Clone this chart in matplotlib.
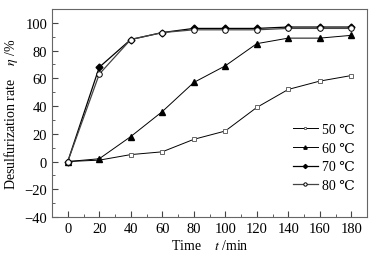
import matplotlib
matplotlib.use('Agg')
import matplotlib.pyplot as plt
from matplotlib.ticker import MultipleLocator

plt.rcParams['font.family'] = ['Liberation Serif', 'DejaVu Serif']
plt.rcParams['mathtext.fontset'] = 'stix'

time_min = [0, 20, 40, 60, 80, 100, 120, 140, 160, 180]
eta_50 = [0, 1, 5, 7, 16, 22, 39, 52, 58, 62]
eta_60 = [0, 2, 18, 36, 57, 69, 85, 89, 89, 91]
eta_70 = [0, 68, 88, 93, 96, 96, 96, 97, 97, 97]
eta_80 = [0, 63, 88, 93, 95, 95, 95, 96, 96, 96]
labels = ['50 ℃', '60 ℃', '70 ℃', '80 ℃']

fig = plt.figure(figsize=(3.85, 2.55), dpi=100)
ax = fig.add_axes([52 / 385, 1 - 218 / 255, 315 / 385, 208 / 255])

ax.plot(time_min, eta_50, '-s', color='black', lw=0.7, ms=3.5,
        mfc='white', mec='#666666', mew=0.7, label=labels[0])
ax.plot(time_min, eta_60, '-^', color='black', lw=0.7, ms=4,
        mfc='black', mec='black', label=labels[1])
ax.plot(time_min, eta_70, '-D', color='black', lw=0.9, ms=3.5,
        mfc='black', mec='black', label=labels[2])
ax.plot(time_min, eta_80, '-o', color='#444444', lw=0.9, ms=4,
        mfc='white', mec='black', mew=0.7, label=labels[3])

ax.set_xlim(-10, 190)
ax.set_ylim(-40, 110)
ax.xaxis.set_major_locator(MultipleLocator(20))
ax.xaxis.set_minor_locator(MultipleLocator(10))
ax.yaxis.set_major_locator(MultipleLocator(20))
ax.yaxis.set_minor_locator(MultipleLocator(10))
ax.tick_params(which='both', direction='in', labelsize=10.5, color='#444444')
ax.tick_params(which='major', length=4)
ax.tick_params(which='minor', length=2)
for s in ax.spines.values():
    s.set_color('#666666')
    s.set_linewidth(0.8)

ax.set_xlabel('Time    $t$ /min', fontsize=10, labelpad=2)
ax.set_ylabel('Desulfurization rate    $\\eta$ /%', fontsize=10, labelpad=3)

leg = ax.legend(loc='lower right', bbox_to_anchor=(1.0, 0.06), frameon=False,
                fontsize=10, handlelength=1.8, handletextpad=0.3,
                labelspacing=0.4, markerscale=0.6)

fig.savefig('out.png', dpi=100)
